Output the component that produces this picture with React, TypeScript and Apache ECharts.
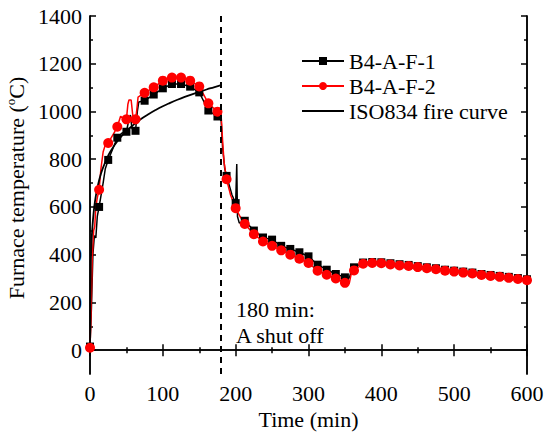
import React, { useEffect, useRef } from "react";
import * as echarts from "echarts";

// Marker times (min)
const markerTimes = [
  0, 12.5, 25, 37.5, 50, 62.5, 75, 87.5, 100, 112.5, 125, 137.5, 150, 162.5, 175, 187.5,
  200, 212.5, 225, 237.5, 250, 262.5, 275, 287.5, 300, 312.5, 325, 337.5, 350, 362.5,
  375, 387.5, 400, 412.5, 425, 437.5, 450, 462.5, 475, 487.5, 500, 512.5, 525, 537.5,
  550, 562.5, 575, 587.5, 600,
];

// B4-A-F-1 (black squares) marker temperatures
const f1Markers = [
  15, 600, 797, 890, 915, 919, 1045, 1071, 1097, 1115, 1115, 1104, 1080, 1004, 979, 730,
  616, 542, 501, 472, 463, 437, 424, 410, 393, 358, 337, 319, 305, 347,
  367, 369, 368, 364, 360, 357, 352, 347, 343, 337, 333, 329, 325, 319,
  315, 311, 307, 302, 297,
];
// B4-A-F-1 extra line points [time, temp]
const f1Extra = [
  [2, 180], [4, 400], [6, 480], [8, 470], [10, 560],
  [18, 700], [21, 760], [44, 910],
  [53, 960], [55.5, 985], [57.5, 930], [60, 920],
  [65, 1000], [67, 1040],
  [178, 978], [180, 970], [182, 850], [185, 760], [195, 650],
  [201.5, 780], [202.5, 560], [205, 532],
  [356, 302], [359, 335],
];

// B4-A-F-2 (red circles) marker temperatures
const f2Markers = [
  10, 672, 868, 936, 967, 967, 1078, 1101, 1129, 1142, 1142, 1129, 1105, 1034, 999, 716,
  595, 529, 486, 455, 437, 418, 400, 383, 365, 333, 316, 300, 282, 334,
  362, 365, 364, 359, 355, 353, 348, 343, 339, 333, 329, 325, 321, 315,
  311, 307, 303, 298, 293,
];
const f2Extra = [
  [1.5, 150], [3, 380], [5, 500], [6.5, 518], [8, 600], [10, 638],
  [15, 760], [18, 830], [21, 860],
  [30, 895], [34, 915],
  [42, 980], [46, 970],
  [52, 1030], [53.5, 1048], [56.5, 1048], [58.5, 990], [60, 960],
  [64, 1000], [66, 1060],
  [178, 1001], [180, 985], [182, 880], [184, 790], [193, 650], [206, 560],
  [356, 280], [359, 325],
];

// ISO834 standard fire curve
const isoTime = [0, 1, 2, 3, 5, 7, 10, 15, 20, 25, 30, 40, 50, 60, 70, 80, 90, 100, 110, 120, 130, 140, 150, 160, 170, 180];
const isoTemp = [20, 349, 445, 502, 576, 626, 678, 739, 781, 815, 842, 885, 918, 945, 968, 988, 1006, 1022, 1036, 1049, 1061, 1072, 1082, 1092, 1101, 1110];

const yMajor = [0, 200, 400, 600, 800, 1000, 1200, 1400];
const yMinor = [100, 300, 500, 700, 900, 1100, 1300];

const FONT = "Liberation Serif";
const FS = 22;

function build(markers: number[], extra: number[][]) {
  const items: any[] = [];
  markers.forEach((v, i) => items.push({ t: markerTimes[i], item: [markerTimes[i], v] }));
  extra.forEach((p) => items.push({ t: p[0], item: { value: [p[0], p[1]], symbol: "none" } }));
  items.sort((a, b) => a.t - b.t);
  return items.map((d) => d.item);
}

export default function App() {
  const ref = useRef<HTMLDivElement>(null);
  useEffect(() => {
    if (!ref.current) return;
    const chart = echarts.init(ref.current, undefined, { renderer: "svg" });
    const tickStyle = { color: "#000", width: 1.5 };
    const axisLineStyle = { show: true, lineStyle: { color: "#000", width: 1.5 } };
    const yBase = (pos: string, major: boolean, labels: boolean) => ({
      type: "value",
      position: pos,
      min: -100,
      max: 1400,
      axisLine: axisLineStyle,
      splitLine: { show: false },
      axisTick: {
        show: true,
        inside: true,
        length: major ? 6 : 3,
        lineStyle: tickStyle,
        customValues: major ? yMajor : yMinor,
      },
      axisLabel: labels
        ? {
            show: true,
            customValues: yMajor,
            formatter: (v: number) => String(v),
            fontFamily: FONT,
            fontSize: FS,
            color: "#000",
            margin: 8,
          }
        : { show: false },
    });
    const option: any = {
      animation: false,
      backgroundColor: "#fff",
      grid: { left: 90, right: 19, top: 16, bottom: 58, outerBoundsMode: "none" },
      legend: {
        orient: "vertical",
        left: 301,
        top: 50,
        padding: 0,
        itemWidth: 42,
        itemHeight: 10,
        itemGap: 3,
        textStyle: { fontFamily: FONT, fontSize: FS, color: "#000" },
        data: [
          "B4-A-F-1",
          "B4-A-F-2",
          { name: "ISO834 fire curve", itemStyle: { opacity: 0 } },
        ],
      },
      xAxis: [
        {
          type: "value",
          position: "bottom",
          min: 0,
          max: 600,
          interval: 100,
          name: "Time (min)",
          nameLocation: "middle",
          nameGap: 29,
          nameTextStyle: { fontFamily: FONT, fontSize: FS, color: "#000" },
          axisLine: axisLineStyle,
          splitLine: { show: false },
          axisTick: { inside: true, length: 6, lineStyle: tickStyle },
          minorTick: { show: true, splitNumber: 2, length: 3, lineStyle: tickStyle },
          minorSplitLine: { show: false },
          axisLabel: { fontFamily: FONT, fontSize: FS, color: "#000", margin: 8 },
        },
        {
          type: "value",
          position: "top",
          min: 0,
          max: 600,
          interval: 100,
          axisLine: axisLineStyle,
          splitLine: { show: false },
          axisTick: { inside: true, length: 6, lineStyle: tickStyle },
          minorTick: { show: true, splitNumber: 2, length: 3, lineStyle: tickStyle },
          minorSplitLine: { show: false },
          axisLabel: { show: false },
        },
      ],
      yAxis: [
        {
          ...yBase("left", true, true),
          name: "{a|Furnace temperature (}{b|o}{a|C)}",
          nameLocation: "middle",
          nameGap: 56,
          nameTextStyle: {
            padding: [0, 0, 0, 14],
            rich: {
              a: { fontFamily: FONT, fontSize: FS, color: "#000", lineHeight: 24 },
              b: { fontFamily: FONT, fontSize: 13, color: "#000", verticalAlign: "top", lineHeight: 13 },
            },
          },
        },
        yBase("left", false, false),
        yBase("right", true, false),
        yBase("right", false, false),
      ],
      graphic: [
        {
          type: "text",
          left: 236,
          top: 298,
          style: { text: "180 min:", fontFamily: FONT, fontSize: FS, fill: "#000" },
        },
        {
          type: "text",
          left: 236,
          top: 324,
          style: { text: "A shut off", fontFamily: FONT, fontSize: FS, fill: "#000" },
        },
      ],
      series: [
        {
          name: "B4-A-F-1",
          type: "line",
          data: build(f1Markers, f1Extra),
          symbol: "rect",
          symbolSize: 8,
          showAllSymbol: true,
          color: "#000",
          itemStyle: { color: "#000" },
          lineStyle: { color: "#000", width: 1.5 },
          markLine: {
            silent: true,
            symbol: ["none", "none"],
            label: { show: false },
            lineStyle: { color: "#000", type: [6, 5], width: 2 },
            data: [{ xAxis: 180 }],
          },
        },
        {
          name: "B4-A-F-2",
          type: "line",
          data: build(f2Markers, f2Extra),
          symbol: "circle",
          symbolSize: 10,
          showAllSymbol: true,
          color: "#ff0000",
          itemStyle: { color: "#ff0000" },
          lineStyle: { color: "#ff0000", width: 1.5 },
        },
        {
          name: "ISO834 fire curve",
          type: "line",
          data: isoTime.map((t, i) => [t, isoTemp[i]]),
          symbol: "none",
          smooth: true,
          color: "#000",
          lineStyle: { color: "#000", width: 1.8 },
        },
      ],
    };
    chart.setOption(option);
    return () => chart.dispose();
  }, []);
  return (
    <div
      ref={ref}
      style={{ position: "fixed", left: 0, top: 0, width: 546, height: 432, background: "#fff" }}
    />
  );
}
